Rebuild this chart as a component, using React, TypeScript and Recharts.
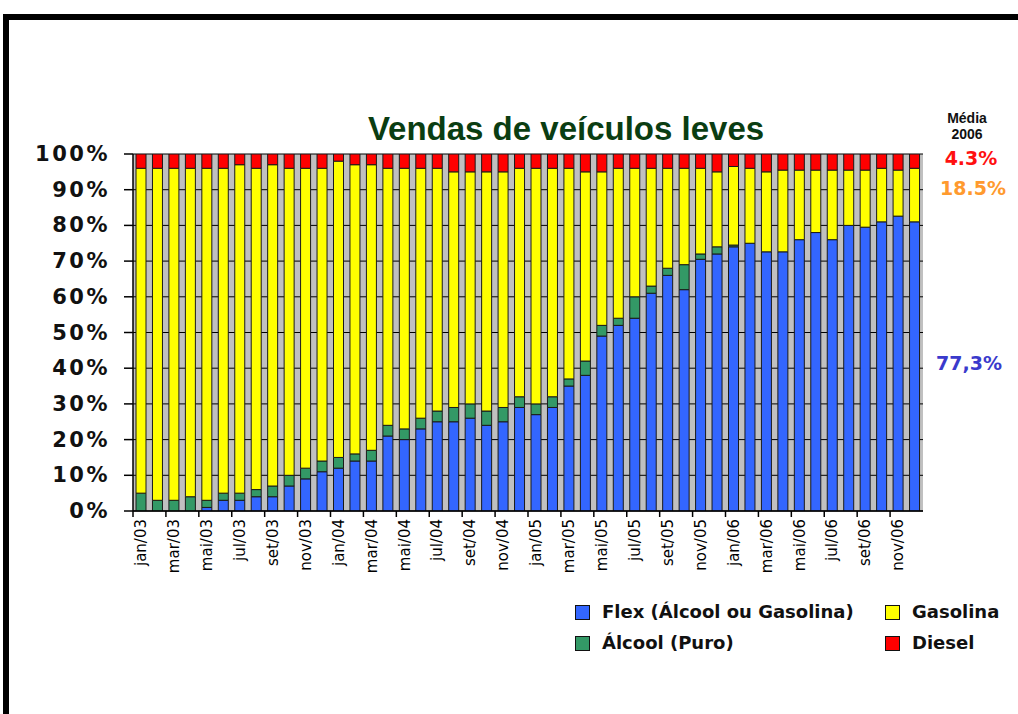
import { BarChart, Bar, XAxis, YAxis, CartesianGrid } from "recharts"

const months = [
  "jan/03", "fev/03", "mar/03", "abr/03", "mai/03", "jun/03", "jul/03", "ago/03", "set/03", "out/03", "nov/03", "dez/03",
  "jan/04", "fev/04", "mar/04", "abr/04", "mai/04", "jun/04", "jul/04", "ago/04", "set/04", "out/04", "nov/04", "dez/04",
  "jan/05", "fev/05", "mar/05", "abr/05", "mai/05", "jun/05", "jul/05", "ago/05", "set/05", "out/05", "nov/05", "dez/05",
  "jan/06", "fev/06", "mar/06", "abr/06", "mai/06", "jun/06", "jul/06", "ago/06", "set/06", "out/06", "nov/06", "dez/06",
]

// shares in %, each month sums to 100
const flex = [
  0, 0, 0, 0, 1, 3, 3, 4, 4, 7, 9, 11,
  12, 14, 14, 21, 20, 23, 25, 25, 26, 24, 25, 29,
  27, 29, 35, 38, 49, 52, 54, 61, 66, 62, 70.5, 72,
  74, 75, 72.6, 72.6, 76, 78, 76, 80, 79.5, 81, 82.6, 81,
]
const alcool = [
  5, 3, 3, 4, 2, 2, 2, 2, 3, 3, 3, 3,
  3, 2, 3, 3, 3, 3, 3, 4, 4, 4, 4, 3,
  3, 3, 2, 4, 3, 2, 6, 2, 2, 7, 1.5, 2,
  0.5, 0, 0, 0, 0, 0, 0, 0, 0, 0, 0, 0,
]
const gasolina = [
  91, 93, 93, 92, 93, 91, 92, 90, 90, 86, 84, 82,
  83, 81, 80, 72, 73, 70, 68, 66, 65, 67, 66, 64,
  66, 64, 59, 53, 43, 42, 36, 33, 28, 27, 24, 21,
  22, 21, 22.4, 22.9, 19.5, 17.5, 19.5, 15.5, 16, 15, 12.9, 15,
]
const diesel = [
  4, 4, 4, 4, 4, 4, 3, 4, 3, 4, 4, 4,
  2, 3, 3, 4, 4, 4, 4, 5, 5, 5, 5, 4,
  4, 4, 4, 5, 5, 4, 4, 4, 4, 4, 4, 5,
  3.5, 4, 5, 4.5, 4.5, 4.5, 4.5, 4.5, 4.5, 4, 4.5, 4,
]

const yTicks = [0, 10, 20, 30, 40, 50, 60, 70, 80, 90, 100]

const data = months.map((m, i) => ({
  month: m,
  flex: flex[i],
  alcool: alcool[i],
  gasolina: gasolina[i],
  diesel: diesel[i],
}))

const BAND = 790 / months.length

const XTick = (props: any) => {
  const { x, y, payload } = props
  return (
    <g>
      <line x1={x - BAND / 2} x2={x - BAND / 2} y1={y} y2={y + 6} stroke="#000" strokeWidth={1.5} />
      <text
        transform={`translate(${x},${y + 8}) rotate(-90)`}
        textAnchor="end"
        dominantBaseline="central"
        fontFamily="DejaVu Sans"
        fontSize={15}
        fill="#000"
      >
        {payload.value}
      </text>
    </g>
  )
}

const YTick = (props: any) => {
  const { x, y, payload } = props
  return (
    <text
      x={x}
      y={y}
      textAnchor="end"
      dominantBaseline="central"
      fontFamily="DejaVu Sans"
      fontWeight="bold"
      fontSize={21}
      letterSpacing={2.5}
      fill="#111"
    >
      {payload.value}%
    </text>
  )
}

const legendItems = [
  { label: "Flex (Álcool ou Gasolina)", color: "#3366ff", x: 575, y: 612 },
  { label: "Gasolina", color: "#ffff00", x: 885, y: 612 },
  { label: "Álcool (Puro)", color: "#339966", x: 575, y: 643 },
  { label: "Diesel", color: "#ff0000", x: 885, y: 643 },
]

const abs = (left: number, top: number): any => ({ position: "absolute", left, top })

export default function App() {
  return (
    <div style={{ position: "absolute", left: 0, top: 0, width: 1018, height: 714, background: "#fff", overflow: "hidden" }}>
      <div style={{ ...abs(3, 14), width: 1015, height: 6, background: "#000" }} />
      <div style={{ ...abs(3, 14), width: 6, height: 700, background: "#000" }} />

      <div
        style={{
          ...abs(266, 110),
          width: 600,
          textAlign: "center",
          fontFamily: "Liberation Sans",
          fontWeight: "bold",
          fontSize: 33,
          color: "#0a3d12",
        }}
      >
        Vendas de veículos leves
      </div>

      <div style={{ position: "absolute", left: 0, top: 0 }}>
        <BarChart
          width={1018}
          height={714}
          data={data}
          margin={{ top: 154, right: 95, bottom: 143, left: 13 }}
          barSize={10}
        >
          <CartesianGrid vertical={false} stroke="#000" strokeWidth={1} fill="#c0c0c0" fillOpacity={1} />
          <XAxis
            dataKey="month"
            height={60}
            interval={1}
            tickLine={false}
            tickSize={0}
            tickMargin={0}
            axisLine={{ stroke: "#000", strokeWidth: 1.5 }}
            tick={<XTick />}
          />
          <YAxis
            width={120}
            domain={[0, 100]}
            ticks={yTicks}
            allowDataOverflow
            tickSize={9}
            tickMargin={14}
            axisLine={{ stroke: "#000", strokeWidth: 1.5 }}
            tickLine={{ stroke: "#000", strokeWidth: 1.5 }}
            tick={<YTick />}
          />
          <Bar dataKey="flex" stackId="a" fill="#3366ff" stroke="#1a1a1a" strokeWidth={1} isAnimationActive={false} />
          <Bar dataKey="alcool" stackId="a" fill="#339966" stroke="#1a1a1a" strokeWidth={1} isAnimationActive={false} />
          <Bar dataKey="gasolina" stackId="a" fill="#ffff00" stroke="#1a1a1a" strokeWidth={1} isAnimationActive={false} />
          <Bar dataKey="diesel" stackId="a" fill="#ff0000" stroke="#1a1a1a" strokeWidth={1} isAnimationActive={false} />
        </BarChart>
      </div>

      <div style={{ ...abs(927, 110), width: 80, textAlign: "center", fontFamily: "Liberation Sans", fontWeight: "bold", fontSize: 14, lineHeight: "16px", color: "#111" }}>
        Média
        <br />
        2006
      </div>
      <div style={{ ...abs(921, 147), width: 100, textAlign: "center", fontFamily: "DejaVu Sans", fontWeight: "bold", fontSize: 19, color: "#ff1010" }}>4.3%</div>
      <div style={{ ...abs(923, 177), width: 100, textAlign: "center", fontFamily: "DejaVu Sans", fontWeight: "bold", fontSize: 19, color: "#ff9a2e" }}>18.5%</div>
      <div style={{ ...abs(919, 352), width: 100, textAlign: "center", fontFamily: "DejaVu Sans", fontWeight: "bold", fontSize: 19, color: "#3a3acc" }}>77,3%</div>

      {legendItems.map((it) => (
        <div key={it.label}>
          <div style={{ ...abs(it.x, it.y - 7), width: 13, height: 13, background: it.color, border: "1.5px solid #111" }} />
          <div
            style={{
              ...abs(it.x + 27, it.y - 12),
              fontFamily: "DejaVu Sans",
              fontWeight: "bold",
              fontSize: 18,
              lineHeight: "24px",
              color: "#111",
              whiteSpace: "nowrap",
            }}
          >
            {it.label}
          </div>
        </div>
      ))}
    </div>
  )
}
